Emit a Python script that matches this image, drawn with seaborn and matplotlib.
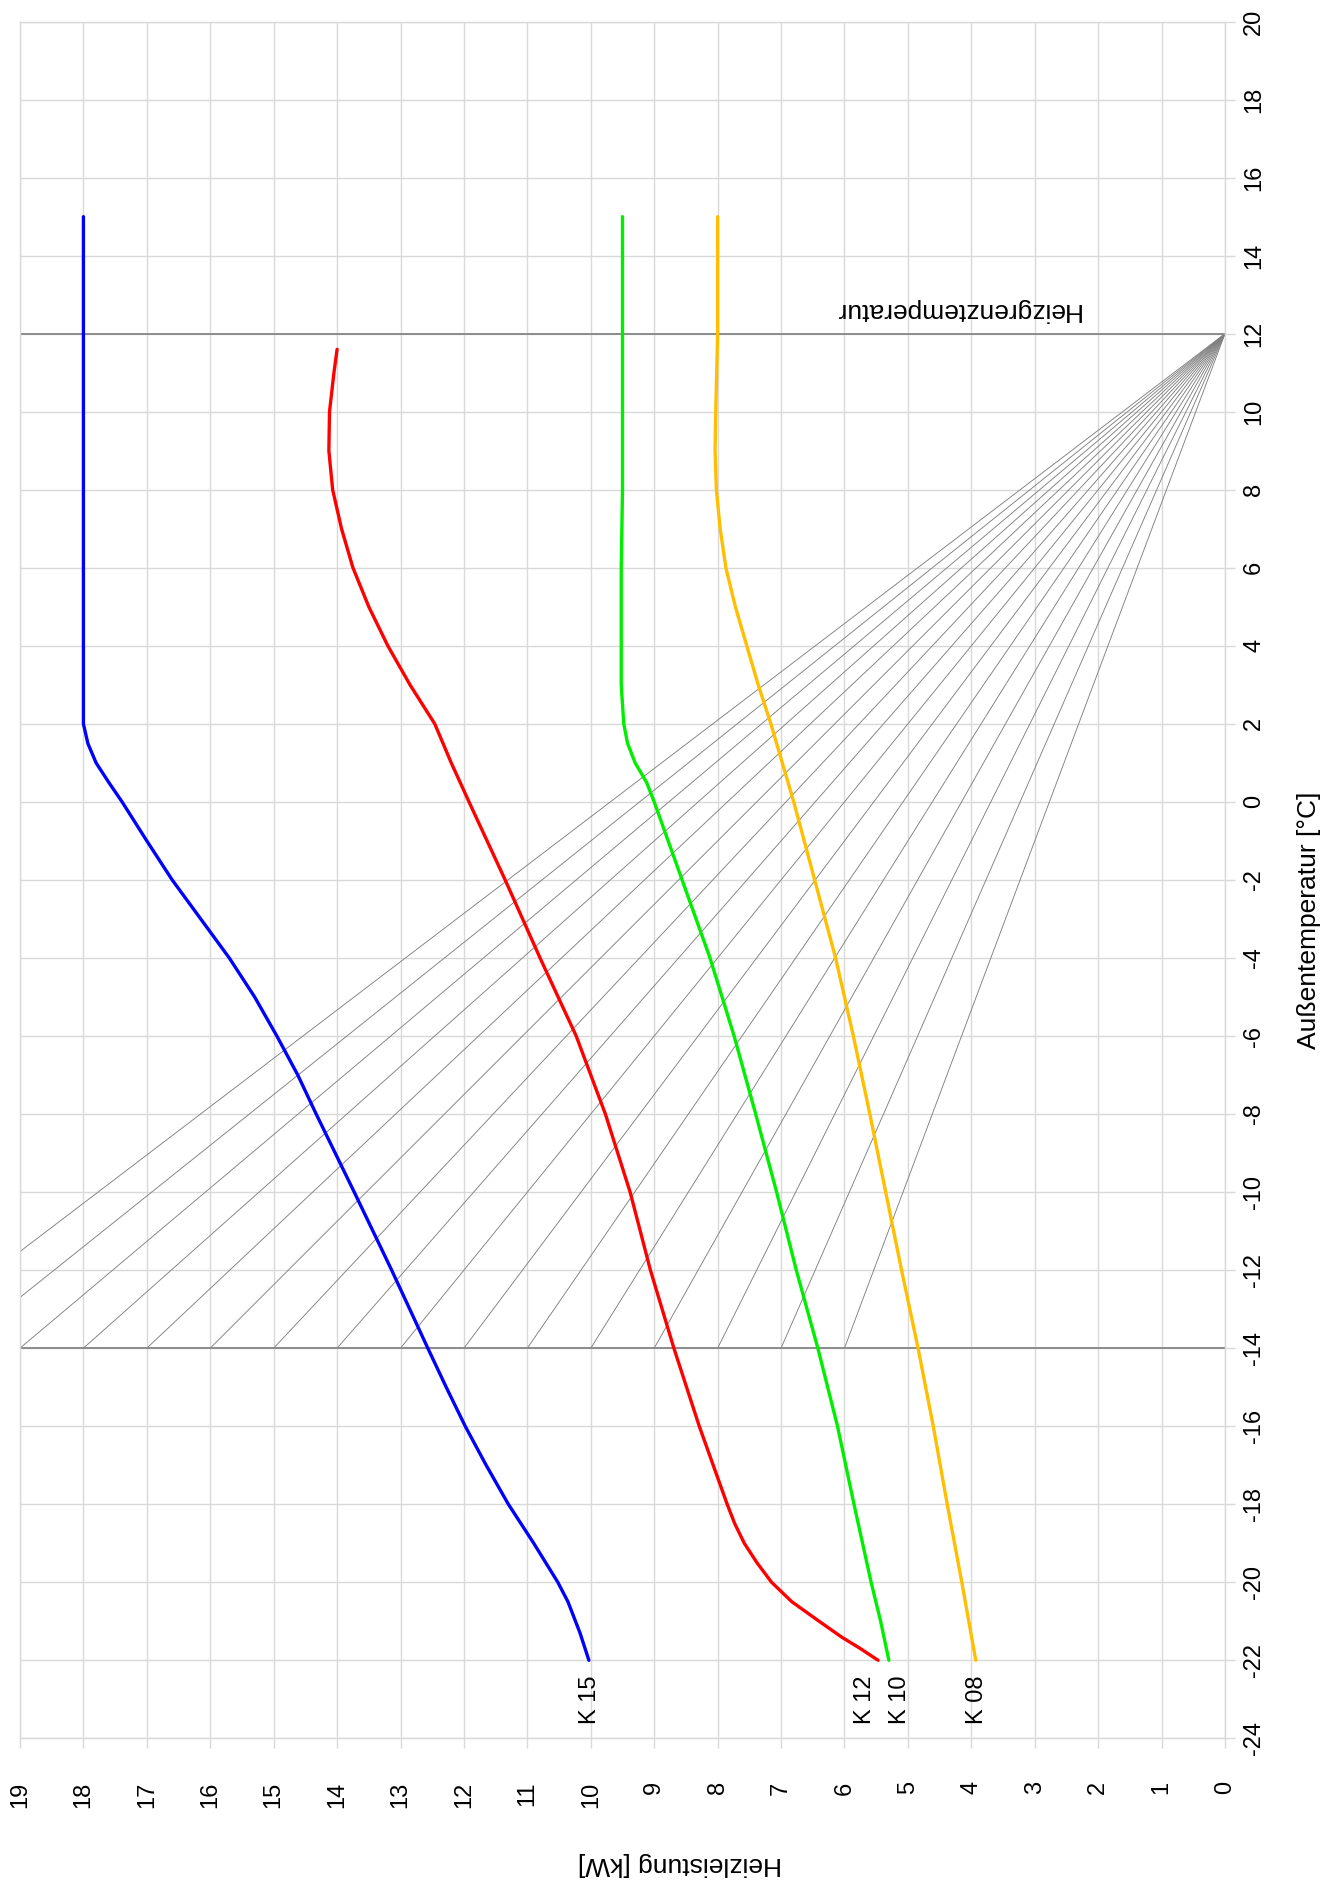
import numpy as np
import pandas as pd
import matplotlib
matplotlib.use("Agg")
import matplotlib.pyplot as plt
import seaborn as sns

# ---------------- data ----------------
k15_temp = [-22, -21.3, -20.5, -20, -19, -18, -17, -16, -15, -14, -12, -10, -8, -7, -6, -5, -4, -3, -2, -1, 0, 0.5, 1, 1.5, 2, 2.5, 3, 15]
k15_kw = [10.03, 10.17, 10.36, 10.52, 10.9, 11.3, 11.65, 11.98, 12.28, 12.57, 13.14, 13.73, 14.33, 14.62, 14.95, 15.3, 15.7, 16.15, 16.6, 17.0, 17.39, 17.6, 17.8, 17.93, 18.0, 18.0, 18.0, 18.0]

k12_temp = [-22, -21.7, -21.4, -21, -20.5, -20, -19.5, -19, -18.5, -18, -17, -16, -14, -12, -10, -8, -6, -4, -2, 0, 1, 2, 3, 4, 5, 6, 7, 8, 9, 10, 11, 11.6]
k12_kw = [5.47, 5.75, 6.05, 6.4, 6.83, 7.15, 7.38, 7.58, 7.73, 7.85, 8.07, 8.29, 8.69, 9.06, 9.38, 9.77, 10.23, 10.8, 11.35, 11.92, 12.2, 12.46, 12.85, 13.2, 13.5, 13.75, 13.93, 14.07, 14.13, 14.12, 14.05, 14.0]

k10_temp = [-22, -21, -20, -18, -16, -14, -12, -10, -8, -6, -4, -2, -1, 0, 0.5, 1, 1.5, 2, 3, 4, 6, 8, 10, 12, 15]
k10_kw = [5.3, 5.43, 5.58, 5.85, 6.11, 6.42, 6.76, 7.07, 7.4, 7.74, 8.12, 8.56, 8.78, 9.0, 9.12, 9.3, 9.42, 9.48, 9.52, 9.52, 9.52, 9.5, 9.5, 9.5, 9.5]

k08_temp = [-22, -20, -18, -16, -14, -12, -10, -8, -6, -4, -2, 0, 2, 3, 4, 5, 6, 7, 8, 9, 10, 12, 15]
k08_kw = [3.93, 4.15, 4.38, 4.6, 4.84, 5.1, 5.35, 5.6, 5.86, 6.14, 6.47, 6.8, 7.16, 7.36, 7.54, 7.72, 7.87, 7.96, 8.02, 8.04, 8.03, 8.0, 8.0]

series_names = ["K 15", "K 12", "K 10", "K 08"]
series_colors = ["#0000ff", "#ff0000", "#00ee00", "#ffbf00"]
label_kw = [10.02, 5.68, 5.13, 3.91]
label_temp = -23.0

# heating-load fan: lines from (0 kW, 12 °C) to (load kW, -14 °C)
heat_limit_temp = 12
design_temp = -14
fan_loads = list(range(6, 22))

kw_ticks = list(range(0, 20))
kw_ticklabels = [str(v) for v in kw_ticks]
temp_ticks = list(range(-24, 21, 2))
temp_ticklabels = [str(v) for v in temp_ticks]

# ---------------- style ----------------
sns.set_theme(style="white")
plt.rcParams["font.family"] = ["Liberation Sans", "DejaVu Sans"]
plt.rcParams["text.color"] = "black"

W, H = 1335, 1882
fig = plt.figure(figsize=(W / 100, H / 100), dpi=100)
left, right, top, bottom = 20, 1225, 21.6, 1738.3
ax = fig.add_axes([left / W, 1 - bottom / H, (right - left) / W, (bottom - top) / H])

grid_c = "#d9d9d9"
ax.set_xlim(19, 0)
ax.set_ylim(-24, 20)
ax.set_xticks(kw_ticks)
ax.set_xticklabels(kw_ticklabels)
ax.set_yticks(temp_ticks)
ax.set_yticklabels(temp_ticklabels)
ax.grid(True, color=grid_c, lw=1.0)
ax.set_axisbelow(True)
for s in ax.spines.values():
    s.set_color(grid_c)
    s.set_linewidth(1.0)

# fan lines
fan_rows = []
for L in fan_loads:
    fan_rows.append({"load": L, "kW": 0.0, "T": heat_limit_temp})
    fan_rows.append({"load": L, "kW": float(L), "T": design_temp})
fan_df = pd.DataFrame(fan_rows)
sns.lineplot(data=fan_df, x="kW", y="T", units="load", estimator=None, sort=False,
             color="#808080", lw=0.65, ax=ax, legend=False)

ax.axhline(design_temp, color="#8c8c8c", lw=1.4)
ax.axhline(heat_limit_temp, color="#8c8c8c", lw=1.4)

# curves
curves = [(k15_temp, k15_kw), (k12_temp, k12_kw), (k10_temp, k10_kw), (k08_temp, k08_kw)]
for (t, p), name, c in zip(curves, series_names, series_colors):
    df = pd.DataFrame({"T": t, "kW": p})
    sns.lineplot(data=df, x="kW", y="T", sort=False, estimator=None, color=c, lw=2.4, ax=ax)

for name, kw in zip(series_names, label_kw):
    ax.text(kw, label_temp, name, rotation=90, ha="center", va="center", fontsize=17, color="black")

ax.text(4.23, 12.6, "Heizgrenztemperatur", rotation=180, ha="center", va="center",
        fontsize=19, color="black")

ax.set_xlabel("")
ax.set_ylabel("")

# ticks
ax.tick_params(axis="x", bottom=True, top=False, length=7, width=1, color=grid_c,
               pad=24, labelsize=17, labelcolor="black", labelrotation=90)
ax.yaxis.tick_right()
ax.tick_params(axis="y", right=True, left=False, length=7, width=1, color=grid_c,
               pad=6, labelsize=17, labelcolor="black", labelrotation=90)
for lab in ax.get_yticklabels():
    lab.set_va("center")

fig.text(1309 / W, 1 - 920 / H, "Außentemperatur [°C]", rotation=90, ha="center", va="center",
         fontsize=19, color="black")
fig.text(680 / W, 1 - 1864 / H, "Heizleistung [kW]", rotation=180, ha="center", va="center",
         fontsize=19, color="black")

fig.savefig("out.png", dpi=100, facecolor="white")
